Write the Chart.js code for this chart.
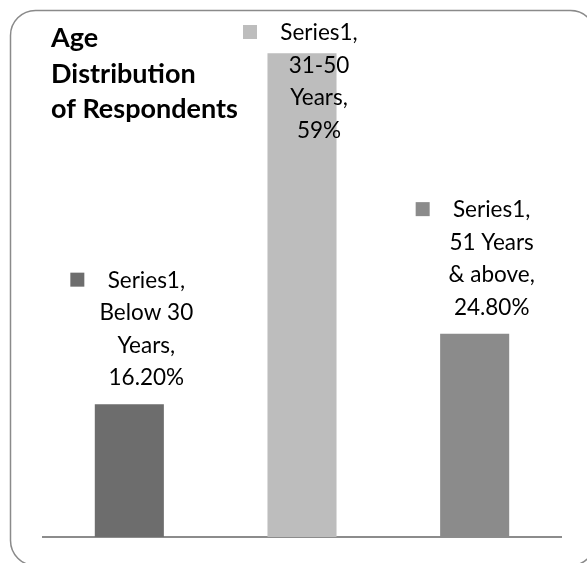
<!DOCTYPE html>
<html><head><meta charset="utf-8">
<script src="https://cdn.jsdelivr.net/npm/chart.js@4"></script>
<style>html,body{margin:0;padding:0;background:#fff}#wrap{width:587px;height:563px;position:relative}</style>
</head><body><div id="wrap"><canvas id="c" width="587" height="563"></canvas></div>
<script>
const titleLines = ['Age', 'Distribution', 'of Respondents'];
const seriesName = 'Series1';
const categories = ['Below 30 Years', '31-50 Years', '51 Years & above'];
const values = [16.2, 59, 24.8];
const barColors = ['#6d6d6d', '#bdbdbd', '#8b8b8b'];
const yMax = 60;

function fmt(v) { return Number.isInteger(v) ? v + '%' : v.toFixed(2) + '%'; }

function wrap(ctx, text, maxW) {
  const words = text.split(' ');
  const lines = [];
  let cur = '';
  words.forEach(w => {
    const t = cur ? cur + ' ' + w : w;
    if (cur && ctx.measureText(t).width > maxW) { lines.push(cur); cur = w; }
    else cur = t;
  });
  if (cur) lines.push(cur);
  return lines;
}

const framePlugin = {
  id: 'frame',
  beforeDraw(chart) {
    const ctx = chart.ctx;
    ctx.save();
    ctx.fillStyle = '#fff';
    ctx.fillRect(0, 0, chart.width, chart.height);
    ctx.beginPath();
    ctx.roundRect(10.5, 10.5, 585, 555, 25);
    ctx.strokeStyle = '#8a8a8a';
    ctx.lineWidth = 1.5;
    ctx.stroke();
    ctx.restore();
  }
};

const titlePlugin = {
  id: 'leftTitle',
  afterDraw(chart) {
    const ctx = chart.ctx;
    ctx.save();
    ctx.font = 'bold 27px Lato';
    ctx.fillStyle = '#000';
    ctx.textAlign = 'left';
    ctx.textBaseline = 'alphabetic';
    const base = [47, 83, 118];
    titleLines.forEach((l, i) => ctx.fillText(l, 51, base[i]));
    ctx.restore();
  }
};

const LH = 32.5;
const labelPlugin = {
  id: 'barLabels',
  afterDatasetsDraw(chart) {
    const ctx = chart.ctx;
    const meta = chart.getDatasetMeta(0);
    ctx.save();
    ctx.font = '22.5px Lato';
    ctx.textAlign = 'center';
    ctx.textBaseline = 'alphabetic';
    meta.data.forEach((bar, i) => {
      const text = seriesName + ', ' + categories[i] + ', ' + fmt(values[i]);
      const lines = wrap(ctx, text, 102);
      const cx = bar.x + 17;
      const last = bar.y - 27;
      let first = last - (lines.length - 1) * LH;
      if (first < 32) first = 32;
      ctx.fillStyle = '#000';
      lines.forEach((l, j) => ctx.fillText(l, cx, first + j * LH + 8));
      ctx.fillStyle = barColors[i];
      ctx.fillRect(cx - 76, first - 7, 14, 14);
    });
    ctx.restore();
  }
};

new Chart(document.getElementById('c'), {
  type: 'bar',
  data: {
    labels: categories,
    datasets: [{
      label: seriesName,
      data: values,
      backgroundColor: barColors,
      borderWidth: 0,
      categoryPercentage: 0.8,
      barPercentage: 0.5
    }]
  },
  options: {
    responsive: false,
    animation: false,
    devicePixelRatio: 1,
    layout: { padding: { left: 43, right: 26, top: 45, bottom: 26 } },
    plugins: { legend: { display: false }, tooltip: { enabled: false }, title: { display: false } },
    scales: {
      x: {
        display: true,
        grid: { display: false, drawTicks: false },
        ticks: { display: false },
        border: { display: true, color: '#8c8c8c', width: 2 },
        afterFit(s) { s.height = 0; }
      },
      y: { display: false, min: 0, max: yMax }
    }
  },
  plugins: [framePlugin, titlePlugin, labelPlugin]
});
</script></body></html>
